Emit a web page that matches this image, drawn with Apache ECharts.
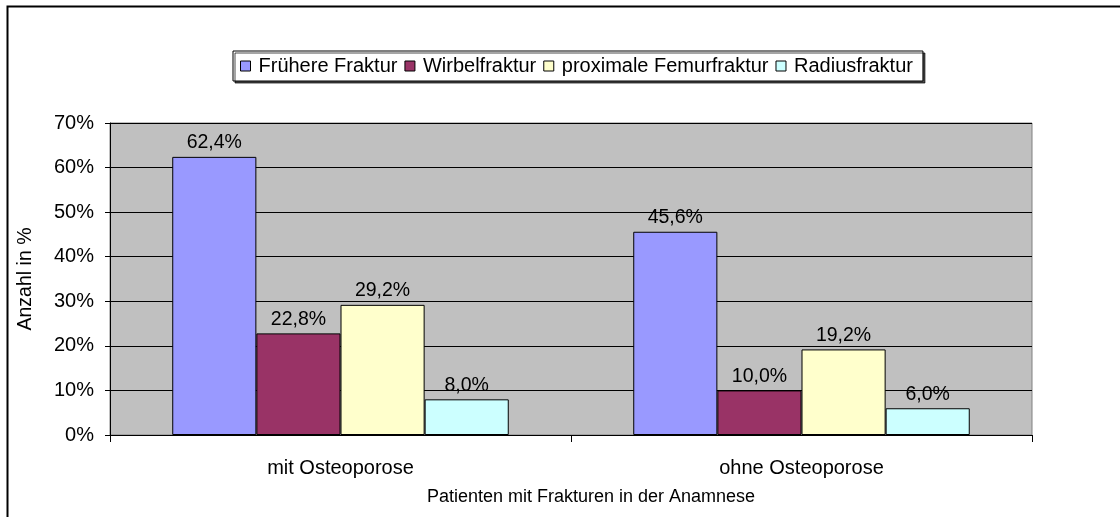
<!DOCTYPE html>
<html>
<head>
<meta charset="utf-8">
<script src="https://cdn.jsdelivr.net/npm/echarts@6/dist/echarts.min.js"></script>
<style>html,body{margin:0;padding:0;background:#fff;}#c{width:1120px;height:517px;}</style>
</head>
<body>
<div id="c"></div>
<script>
const categories = ['mit Osteoporose', 'ohne Osteoporose'];
const seriesNames = ['Frühere Fraktur', 'Wirbelfraktur', 'proximale Femurfraktur', 'Radiusfraktur'];
const fruehere = [62.4, 45.6];
const wirbel = [22.8, 10.0];
const femur = [29.2, 19.2];
const radius = [8.0, 6.0];
const yTicks = [0, 10, 20, 30, 40, 50, 60, 70];
const colors = ['#9999FF', '#993366', '#FFFFCC', '#CCFFFF'];
const values = [fruehere, wirbel, femur, radius];

const font = 'Liberation Sans, Arial, sans-serif';
const chart = echarts.init(document.getElementById('c'), null, {renderer: 'canvas'});
chart.setOption({
  animation: false,
  backgroundColor: '#fff',
  textStyle: {fontFamily: font},
  graphic: [{
    type: 'rect', left: 5, top: 4, z: -10,
    shape: {width: 1130, height: 530},
    style: {fill: 'none', stroke: '#000', lineWidth: 2}
  }],
  legend: {
    left: 233, top: 51,
    padding: [5, 10, 5, 7],
    itemGap: 7,
    itemWidth: 10, itemHeight: 10,
    icon: 'rect',
    borderColor: '#000', borderWidth: 1,
    shadowColor: 'rgba(0,0,0,0.7)', shadowOffsetX: 2, shadowOffsetY: 2,
    backgroundColor: '#fff',
    textStyle: {fontSize: 20, color: '#000', fontFamily: font, padding: [0, 0, 0, 3]},
    itemStyle: {borderColor: '#000', borderWidth: 1},
    data: seriesNames
  },
  grid: {
    left: 110, right: 88, top: 123, bottom: 82,
    show: true, backgroundColor: '#C0C0C0', borderColor: '#808080', borderWidth: 1
  },
  xAxis: {
    type: 'category',
    data: categories,
    name: 'Patienten mit Frakturen in der Anamnese',
    nameLocation: 'middle', nameGap: 53,
    nameTextStyle: {fontSize: 18, color: '#000', fontFamily: font, padding: [0, 0, 0, 40]},
    axisLine: {lineStyle: {color: '#000', width: 1}},
    axisTick: {show: true, length: 7, lineStyle: {color: '#000'}},
    axisLabel: {fontSize: 20, color: '#000', margin: 23, fontFamily: font},
    splitLine: {show: false}
  },
  yAxis: {
    type: 'value',
    min: 0, max: 70, interval: 10,
    name: 'Anzahl in %',
    nameLocation: 'middle', nameGap: 74, nameRotate: 90,
    nameTextStyle: {fontSize: 19.5, color: '#000', fontFamily: font},
    axisLine: {show: true, lineStyle: {color: '#000', width: 1}},
    axisTick: {show: true, length: 5, lineStyle: {color: '#000'}},
    axisLabel: {fontSize: 20, color: '#000', margin: 16, fontFamily: font,
      formatter: v => yTicks.includes(v) ? v + '%' : ''},
    splitLine: {show: true, lineStyle: {color: '#000', width: 1}}
  },
  series: seriesNames.map((n, i) => ({
    name: n,
    type: 'bar',
    data: values[i],
    barGap: '0%',
    barCategoryGap: '27%',
    itemStyle: {color: colors[i], borderColor: '#000', borderWidth: 1},
    label: {
      show: true, position: 'top', distance: 4,
      fontSize: 19.5, color: '#000', fontFamily: font,
      formatter: p => p.value.toFixed(1).replace('.', ',') + '%'
    }
  }))
});
</script>
</body>
</html>
